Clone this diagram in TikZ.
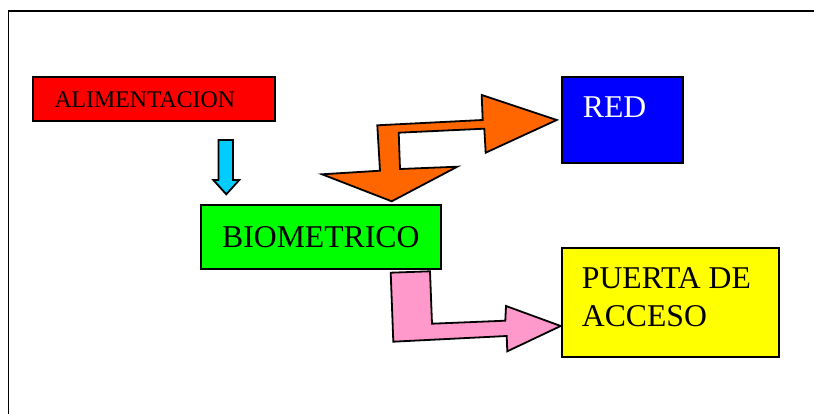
\documentclass[tikz,border=0pt]{standalone}
\usepackage{fontspec}
\setmainfont{Liberation Serif}
\definecolor{alimred}{HTML}{FF0000}
\definecolor{redblue}{HTML}{0000FF}
\definecolor{biogreen}{HTML}{00FF00}
\definecolor{puertayellow}{HTML}{FFFF00}
\definecolor{linkorange}{HTML}{FF6600}
\definecolor{powercyan}{HTML}{00CCFF}
\definecolor{doorpink}{HTML}{FF99CC}
\begin{document}
\begin{tikzpicture}[x=1pt,y=-1pt,
  block/.style={draw=black,line width=2pt,inner sep=0pt,anchor=north west},
  bigtext/.style={inner sep=0pt,anchor=base west,font=\fontsize{31.7}{37.7}\selectfont,align=left},
  smalltext/.style={inner sep=0pt,anchor=base west,font=\fontsize{23.8}{28}\selectfont},
  blockarrow/.style={draw=black,line width=1.8pt,line join=miter}]
\useasboundingbox (0,0) rectangle (814,414);
\fill[white] (0,0) rectangle (814,414);

% page frame (open to the right and bottom)
\draw[line width=1.8pt] (8.5,414) -- (8.5,11.3) -- (814,11.3);

% boxes
\node[block,fill=alimred,minimum width=242pt,minimum height=44pt] (alim) at (32,76) {};
\node[smalltext] (alimtxt) at (54.3,108) {ALIMENTACION};

\node[block,fill=biogreen,minimum width=240.3pt,minimum height=64pt,anchor=center,
  font=\fontsize{31.7}{37.7}\selectfont] (bio) at (320.8,237) {BIOMETRICO};

\node[block,fill=redblue,minimum width=121pt,minimum height=86.3pt] (red) at (560.7,75.7) {};
\node[bigtext,text=white] (redtxt) at (582.7,118) {RED};

\node[block,fill=puertayellow,minimum width=217pt,minimum height=108.4pt] (puerta) at (560.7,247.3) {};
\node[bigtext] (puertatxt1) at (581.7,288.3) {PUERTA DE};
\node[bigtext] (puertatxt2) at (581.7,326) {ACCESO};

% power arrow: ALIMENTACION -> BIOMETRICO
\draw[blockarrow,fill=powercyan] (218.5,140) -- (233,140) -- (233,180) -- (239.3,180)
  -- (226.3,194.3) -- (213.3,180) -- (218.5,180) -- cycle;

% bent two-way link arrow: BIOMETRICO <-> RED
\draw[blockarrow,fill=linkorange] (556.7,120) -- (481.7,95) -- (482.7,120)
  -- (377.3,125.3) -- (380,170.7) -- (322,174.3) -- (391.7,201.3)
  -- (457.3,166.7) -- (400,169) -- (398.7,132.7) -- (484.3,128.7)
  -- (485.7,152.7) -- cycle;

% bent arrow: BIOMETRICO -> PUERTA DE ACCESO
\draw[blockarrow,fill=doorpink] (390.7,272.7) -- (430,271.3) -- (432,323.7)
  -- (505.3,320.7) -- (506,306) -- (560.7,326) -- (507.3,351.3)
  -- (506.7,336) -- (393.3,341.7) -- cycle;
\end{tikzpicture}
\end{document}
